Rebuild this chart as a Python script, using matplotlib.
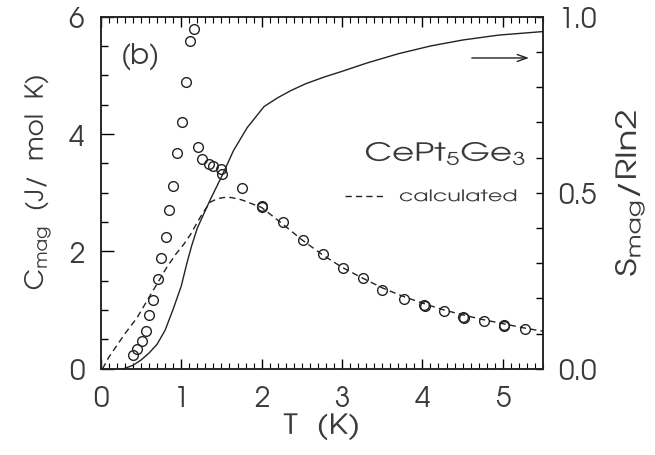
import numpy as np
import matplotlib
matplotlib.use('Agg')
import matplotlib.pyplot as plt
from matplotlib.ticker import MultipleLocator, FixedLocator, FixedFormatter
from matplotlib.patheffects import AbstractPathEffect
from matplotlib.transforms import Affine2D

# Avant Garde style lettering throughout, including sub/superscripts
FAM = 'TeX Gyre Adventor'
plt.rcParams['font.family'] = [FAM, 'DejaVu Sans']
plt.rcParams['mathtext.fontset'] = 'custom'
plt.rcParams['mathtext.rm'] = FAM
plt.rcParams['mathtext.it'] = FAM
plt.rcParams['mathtext.default'] = 'rm'
TXT = '#3a3a3a'
INK = '#222222'


class Widen(AbstractPathEffect):
    """Stretch glyphs along the baseline (wide, loosely set lettering)."""

    def __init__(self, sx=1.3, anchor='center'):
        super().__init__()
        self.sx = sx
        self.anchor = anchor

    def draw_path(self, renderer, gc, tpath, affine, rgbFace=None):
        ext = tpath.get_extents()
        x0 = {'left': ext.x0, 'right': ext.x1}.get(self.anchor,
                                                    (ext.x0 + ext.x1) / 2)
        tr = Affine2D().translate(-x0, 0).scale(self.sx, 1).translate(x0, 0)
        renderer.draw_path(gc, tpath, tr + affine, rgbFace)


# ── measured magnetic specific heat (open circles) ───────────────────────────
T_meas = [0.40, 0.45, 0.51, 0.56, 0.60, 0.65, 0.71, 0.75, 0.81, 0.85, 0.90,
          0.95, 1.01, 1.06, 1.11, 1.16, 1.21, 1.26, 1.34, 1.39, 1.50, 1.51,
          1.76, 2.00, 2.01, 2.26, 2.51, 2.76, 3.01, 3.26, 3.50, 3.77, 4.02,
          4.03, 4.27, 4.51, 4.52, 4.77, 5.01, 5.02, 5.28]
C_meas = [0.23, 0.33, 0.47, 0.65, 0.92, 1.18, 1.53, 1.89, 2.24, 2.71, 3.12,
          3.67, 4.21, 4.89, 5.58, 5.80, 3.78, 3.58, 3.49, 3.46, 3.41, 3.32,
          3.08, 2.78, 2.76, 2.50, 2.19, 1.96, 1.72, 1.55, 1.35, 1.19, 1.09,
          1.07, 0.98, 0.88, 0.87, 0.81, 0.74, 0.73, 0.68]

# ── calculated C_mag (dashed) ────────────────────────────────────────────────
T_calc = [0.02, 0.10, 0.20, 0.30, 0.45, 0.57, 0.70, 0.82, 0.93, 1.03, 1.12,
          1.20, 1.28, 1.36, 1.45, 1.53, 1.62, 1.75, 2.00, 2.25, 2.50, 2.75,
          3.00, 3.25, 3.50, 3.75, 4.00, 4.25, 4.50, 4.75, 5.00, 5.25, 5.50]
C_calc = [0.00, 0.20, 0.40, 0.60, 0.87, 1.15, 1.45, 1.73, 1.95, 2.12, 2.30,
          2.50, 2.68, 2.84, 2.90, 2.92, 2.92, 2.88, 2.75, 2.48, 2.20, 1.95,
          1.73, 1.55, 1.38, 1.24, 1.12, 1.01, 0.92, 0.84, 0.77, 0.70, 0.64]

# ── magnetic entropy S_mag / R ln2 (solid, right axis) ───────────────────────
T_ent = [0.28, 0.40, 0.50, 0.60, 0.70, 0.80, 0.90, 1.00, 1.07, 1.13, 1.20,
         1.28, 1.36, 1.51, 1.65, 1.82, 2.03, 2.20, 2.36, 2.55, 2.78, 3.00,
         3.30, 3.70, 4.10, 4.50, 4.95, 5.50]
S_ent = [0.000, 0.010, 0.025, 0.045, 0.070, 0.110, 0.170, 0.235, 0.300,
         0.350, 0.400, 0.440, 0.480, 0.550, 0.620, 0.685, 0.745, 0.770,
         0.790, 0.810, 0.829, 0.845, 0.868, 0.895, 0.917, 0.934, 0.948,
         0.958]

fig = plt.figure(figsize=(6.55, 4.56), dpi=100)
ax = fig.add_axes([0.154, 0.189, 0.675, 0.772])
ax2 = ax.twinx()

ax.plot(T_meas, C_meas, 'o', ms=7, mfc='none', mec=INK, mew=1.0, zorder=3)
calc, = ax.plot(T_calc, C_calc, color=INK, lw=1.0, dashes=(4.5, 3),
                label='calculated')
ax2.plot(T_ent, S_ent, color=INK, lw=1.0)

# arrow pointing to the entropy axis
ax2.annotate('', xy=(5.36, 0.883), xytext=(4.58, 0.883),
             arrowprops=dict(arrowstyle='->,head_length=0.7,head_width=0.25',
                             lw=1.0, color=INK))

ax.set_xlim(0, 5.5)
ax.set_ylim(0, 6)
ax2.set_ylim(0, 1)

ax.xaxis.set_major_locator(MultipleLocator(1))
ax.xaxis.set_minor_locator(MultipleLocator(0.1))
ax.yaxis.set_major_locator(MultipleLocator(2))
ax.yaxis.set_minor_locator(MultipleLocator(0.5))
ax2.yaxis.set_major_locator(FixedLocator([0.0, 0.5, 1.0]))
ax2.yaxis.set_major_formatter(FixedFormatter(['0.0', '0.5', '1.0']))
ax2.yaxis.set_minor_locator(MultipleLocator(0.1))

ax.tick_params(axis='x', which='both', direction='in', top=True,
               labelsize=20, labelcolor=TXT, pad=12)
ax.tick_params(axis='x', which='major', length=7, width=1)
ax.tick_params(axis='x', which='minor', length=4, width=0.8)
ax.tick_params(axis='y', which='both', direction='in', right=False,
               labelsize=20, labelcolor=TXT, pad=12)
ax.tick_params(axis='y', which='major', length=9, width=1)
ax.tick_params(axis='y', which='minor', length=5, width=1)
ax2.tick_params(axis='y', which='both', direction='in', length=5, width=1,
                labelsize=20, labelcolor=TXT, pad=11)

for a in (ax, ax2):
    for s in a.spines.values():
        s.set_linewidth(1.1)
        s.set_color(INK)

xl = ax.set_xlabel('T  (K)', fontsize=20, color=TXT, labelpad=1)
xl.set_path_effects([Widen(1.2)])
rl = ax2.set_ylabel('S$_{mag}$/Rln2', fontsize=20, color=TXT, labelpad=12)
rl.set_path_effects([Widen(1.3)])
# left label placed in figure coordinates, centred a bit above mid-axis
fig.text(0.057, 0.598, 'C$_{mag}$  (J/  mol  K)', fontsize=18, color=TXT,
         rotation=90, ha='center', va='center',
         path_effects=[Widen(1.05)])

ax.text(0.045, 0.89, '(b)', transform=ax.transAxes, fontsize=20,
        color=TXT, va='center', ha='left')
ax.text(0.597, 0.61, 'CePt$_5$Ge$_3$', transform=ax.transAxes, fontsize=18,
        color=TXT, va='center', ha='left',
        path_effects=[Widen(1.36, 'left')])

leg = ax.legend(handles=[calc], loc='center left',
                bbox_to_anchor=(0.552, 0.489), frameon=False, fontsize=11.5,
                handlelength=2.4, handletextpad=1.0, borderpad=0,
                borderaxespad=0, labelcolor=TXT)
leg.get_texts()[0].set_path_effects([Widen(1.39, 'left')])

fig.savefig('out.png', dpi=100)
